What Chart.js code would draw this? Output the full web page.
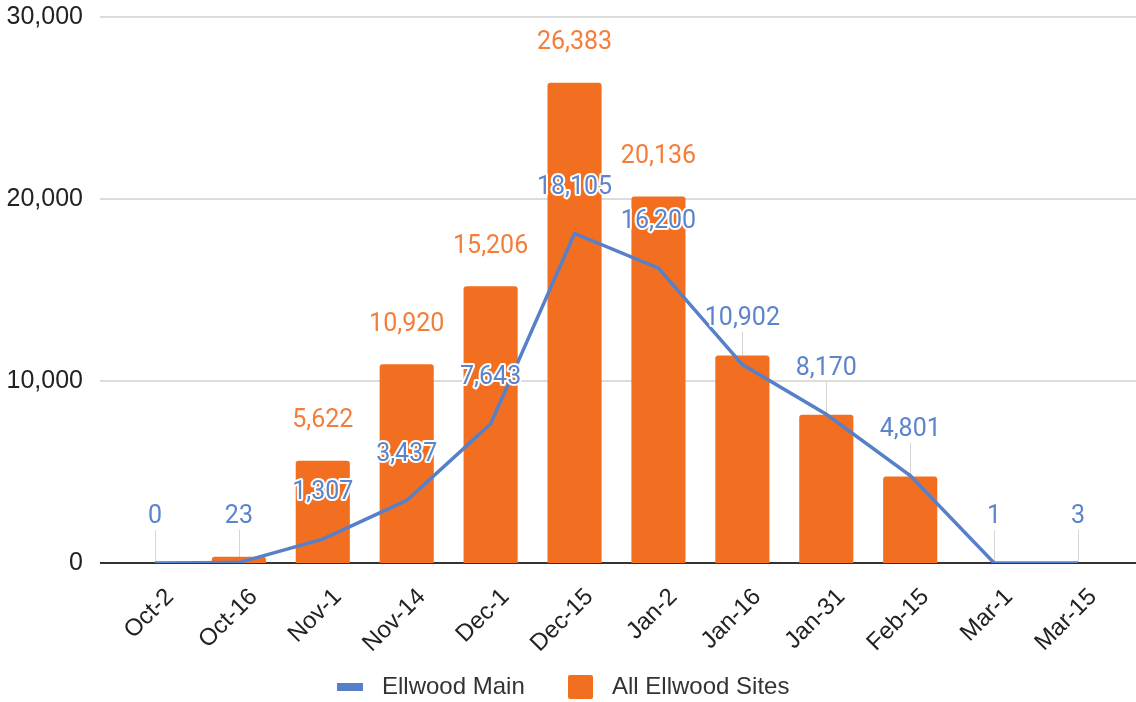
<!DOCTYPE html>
<html>
<head>
<meta charset="utf-8">
<script src="https://cdn.jsdelivr.net/npm/chart.js@4.4.1/dist/chart.umd.min.js"></script>
<style>
  html, body { margin:0; padding:0; background:#fff; }
  #wrap { width:1136px; height:702px; }
</style>
</head>
<body>
<div id="wrap"><canvas id="chart" width="1136" height="702"></canvas></div>
<script>
const categories = ['Oct-2','Oct-16','Nov-1','Nov-14','Dec-1','Dec-15','Jan-2','Jan-16','Jan-31','Feb-15','Mar-1','Mar-15'];
const mainValues = [0, 23, 1307, 3437, 7643, 18105, 16200, 10902, 8170, 4801, 1, 3];
const allSitesValues = [0, 350, 5622, 10920, 15206, 26383, 20136, 11400, 8150, 4750, 0, 0];
// bar annotations that are visible in the picture (others are hidden behind line labels)
const shownBarLabels = [false,false,true,true,true,true,true,false,false,false,false,false];
const yTicks = [0, 10000, 20000, 30000];

const blue = '#5780C8';
const orange = '#F26F21';
const fmt = v => v.toLocaleString('en-US');

// grid lines, zero line and annotation stems behind the marks
const backdrop = {
  id:'backdrop',
  beforeDatasetsDraw(chart){
    const ctx = chart.ctx, y = chart.scales.y;
    ctx.save();
    yTicks.forEach(t=>{
      if(t===0) return;
      const py = Math.round(y.getPixelForValue(t));
      ctx.strokeStyle = '#dcdcdc'; ctx.lineWidth = 2;
      ctx.beginPath(); ctx.moveTo(100, py); ctx.lineTo(1136, py); ctx.stroke();
    });
    // stems for line annotations
    const meta = chart.getDatasetMeta(0);
    ctx.strokeStyle = '#d6d6d6'; ctx.lineWidth = 1;
    meta.data.forEach(pt=>{
      const x = Math.round(pt.x)+0.5;
      ctx.beginPath(); ctx.moveTo(x, pt.y); ctx.lineTo(x, pt.y-33); ctx.stroke();
    });
    const zy = Math.round(y.getPixelForValue(0));
    ctx.strokeStyle = '#333'; ctx.lineWidth = 2;
    ctx.beginPath(); ctx.moveTo(100, zy); ctx.lineTo(1136, zy); ctx.stroke();
    ctx.restore();
  }
};

// value annotations with white halo
const annotations = {
  id:'annotations',
  afterDatasetsDraw(chart){
    const ctx = chart.ctx;
    ctx.save();
    ctx.font = '25px Roboto';
    ctx.textAlign = 'center';
    ctx.textBaseline = 'middle';
    ctx.lineJoin = 'round';
    const draw = (txt, x, y, color)=>{
      ctx.strokeStyle = '#fff'; ctx.lineWidth = 4;
      ctx.strokeText(txt, x, y);
      ctx.fillStyle = color;
      ctx.fillText(txt, x, y);
    };
    chart.getDatasetMeta(1).data.forEach((bar,i)=>{
      if(shownBarLabels[i]) draw(fmt(allSitesValues[i]), bar.x, bar.y-40, '#F47D3A');
    });
    chart.getDatasetMeta(0).data.forEach((pt,i)=>{
      draw(fmt(mainValues[i]), pt.x, pt.y-46, '#5C84CC');
    });
    ctx.restore();
  }
};

// legend at the bottom
const bottomLegend = {
  id:'bottomLegend',
  afterDraw(chart){
    const ctx = chart.ctx;
    const ds = chart.data.datasets;
    ctx.save();
    ctx.font = '24px "Liberation Sans", Arial';
    ctx.textBaseline = 'middle';
    const cy = 687;
    ctx.fillStyle = ds[0].borderColor;
    ctx.fillRect(337, cy-4, 26, 8);
    ctx.fillStyle = '#333';
    ctx.fillText(ds[0].label, 382, cy);
    ctx.fillStyle = ds[1].backgroundColor;
    ctx.beginPath(); ctx.roundRect(568, cy-12, 25, 24, 2); ctx.fill();
    ctx.fillStyle = '#333';
    ctx.fillText(ds[1].label, 612, cy);
    ctx.restore();
  }
};

new Chart(document.getElementById('chart').getContext('2d'), {
  data:{
    labels: categories,
    datasets:[
      { type:'line', label:'Ellwood Main', data: mainValues, borderColor: blue, backgroundColor: blue,
        borderWidth:3.5, pointRadius:0, tension:0, order:0 },
      { type:'bar', label:'All Ellwood Sites', data: allSitesValues, backgroundColor: orange,
        borderRadius:3, borderSkipped:'bottom', categoryPercentage:1, barPercentage:0.645, order:1 }
    ]
  },
  options:{
    responsive:false,
    animation:false,
    layout:{ padding:{ top:17, right:16, bottom:50, left:0 } },
    plugins:{ legend:{ display:false }, tooltip:{ enabled:false } },
    scales:{
      x:{
        grid:{ display:false }, border:{ display:false },
        ticks:{ minRotation:45, maxRotation:45, color:'#222', padding:12, labelOffset:15,
          font:{ family:'"Liberation Sans", Arial', size:24 } },
        afterFit: s => { s.height = 89; }
      },
      y:{
        min:0, max:30000,
        grid:{ display:false, drawTicks:false }, border:{ display:false },
        ticks:{ stepSize:10000, color:'#222', padding:30,
          font:{ family:'"Liberation Sans", Arial', size:25 },
          callback: v => fmt(v) },
        afterFit: s => { s.width = 113; s.paddingTop = 0; s.paddingBottom = 0; }
      }
    }
  },
  plugins:[backdrop, annotations, bottomLegend]
});
</script>
</body>
</html>
